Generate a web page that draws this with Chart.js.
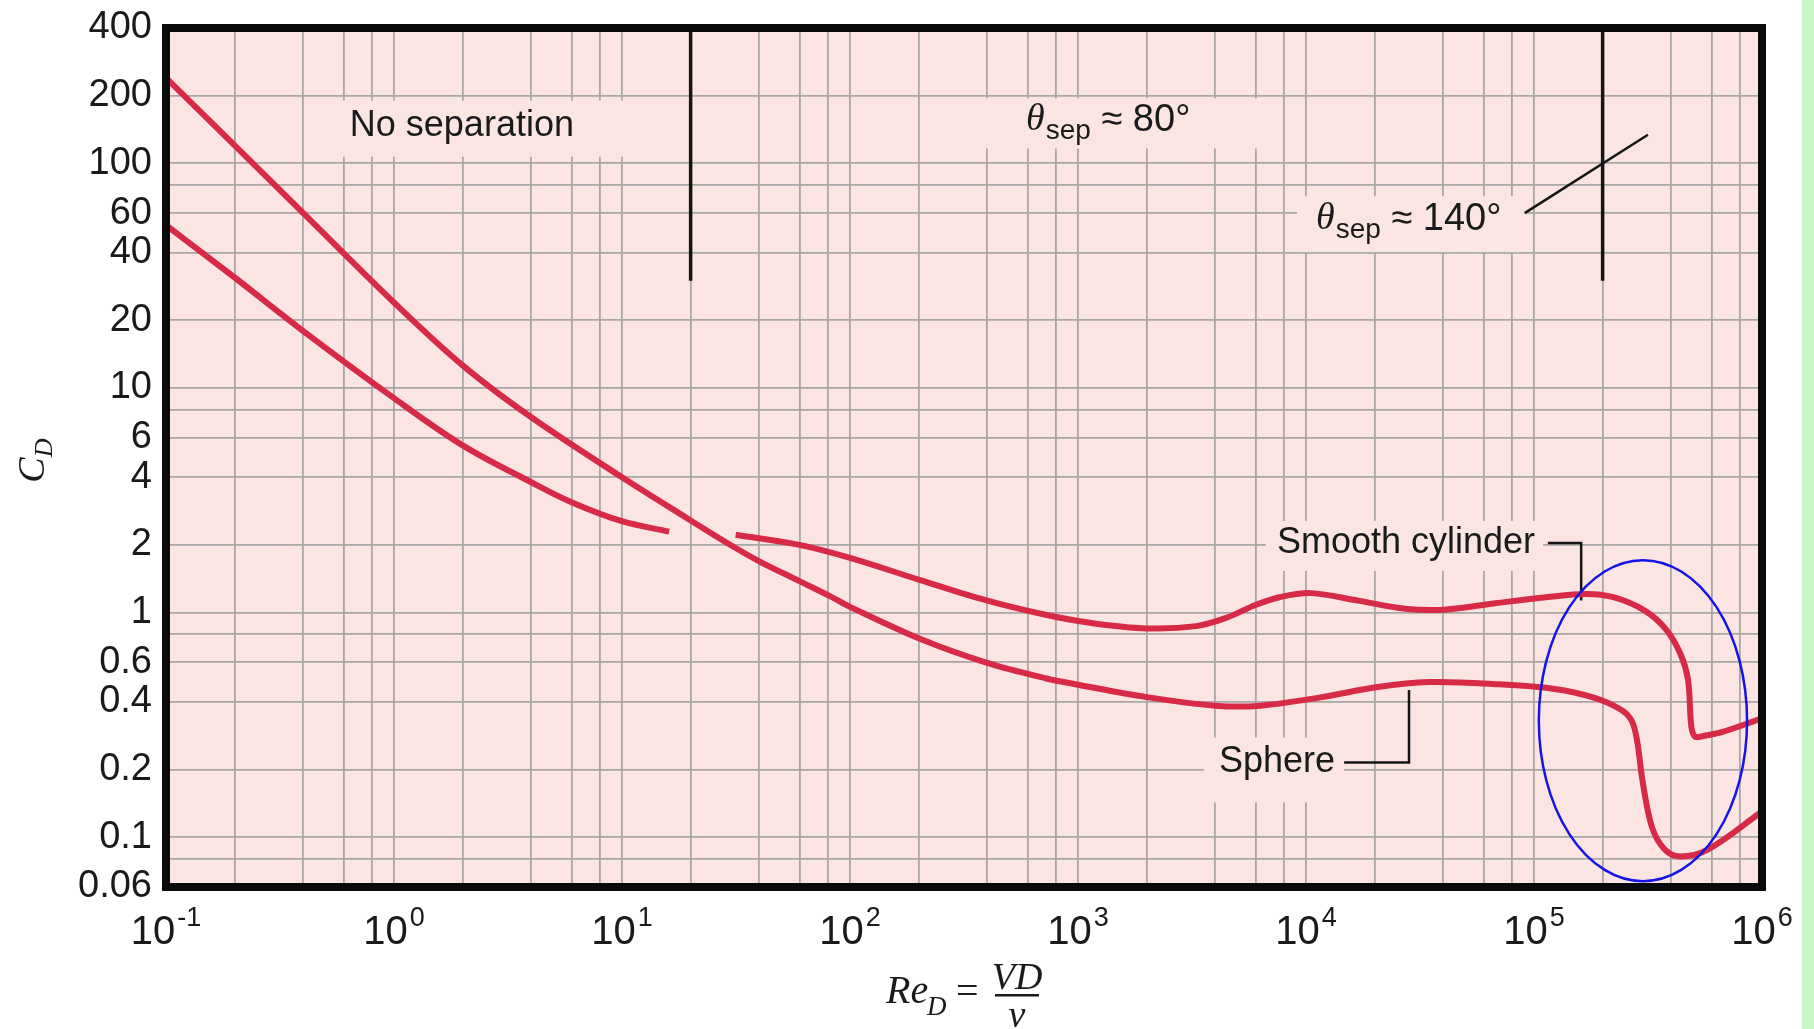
<!DOCTYPE html>
<html><head><meta charset="utf-8">
<script src="https://cdn.jsdelivr.net/npm/chart.js@4.4.1/dist/chart.umd.min.js"></script>
<style>html,body{margin:0;padding:0;background:#fff;overflow:hidden}canvas{display:block}</style>
</head><body>
<canvas id="c" width="1814" height="1029"></canvas>
<script>
// ---- data ----
const sphereRe = [0.1, 0.4, 1, 2, 4, 10, 20, 28, 40, 60, 82, 100, 205, 393, 720, 1000, 2000, 4000, 6300, 11400, 20600, 34500, 67800, 123000, 183000, 240000, 268000, 283000, 300000, 330000, 375000, 438000, 578000, 1000000];
const sphereCd = [240, 60, 24, 12.6, 7.4, 4.0, 2.57, 2.08, 1.69, 1.38, 1.18, 1.06, 0.76, 0.60, 0.51, 0.477, 0.42, 0.385, 0.385, 0.418, 0.466, 0.49, 0.48, 0.457, 0.418, 0.37, 0.33, 0.27, 0.175, 0.11, 0.088, 0.082, 0.088, 0.13];
const cylinderRe = [0.1, 0.2, 0.4, 1, 2, 4, 6, 10, 16.1, 22, 31.5, 60, 100, 205, 393, 720, 1130, 2000, 3300, 4500, 6000, 7640, 10500, 16900, 27200, 40400, 67700, 113000, 169000, 223000, 306000, 380000, 440000, 474000, 490000, 510000, 560000, 678000, 1000000];
const cylinderCd = [53, 31, 17.9, 9.0, 5.55, 3.8, 3.1, 2.55, 2.29, null, 2.22, 2.0, 1.75, 1.39, 1.135, 0.977, 0.90, 0.85, 0.87, 0.95, 1.08, 1.17, 1.22, 1.13, 1.04, 1.03, 1.10, 1.17, 1.21, 1.17, 1.02, 0.84, 0.65, 0.50, 0.31, 0.28, 0.283, 0.295, 0.338];

const xGridValues = [0.1,0.2,0.4,0.6,0.8,1,2,4,6,8,10,20,40,60,80,100,200,400,600,800,1000,2000,4000,6000,8000,10000,20000,40000,60000,80000,100000,200000,400000,600000,800000,1000000];
const xTickExponents = [-1, 0, 1, 2, 3, 4, 5, 6];
const yGridValues = [0.06,0.08,0.1,0.2,0.4,0.6,0.8,1,2,4,6,8,10,20,40,60,80,100,200,400];
const yTickLabels = ['0.06','0.1','0.2','0.4','0.6','1','2','4','6','10','20','40','60','100','200','400'];

// separation-regime markers
const sepLineRe = [20, 200000];
const sepLineCd = [400, 30];
const pointerRe = [91000, 316000];
const pointerCd = [60, 134];
// label anchors (left edge, vertical centre) in data units
const labelNoSep = {re: 0.64, cd: 147};
const labelTheta80 = {re: 592, cd: 155};
const labelTheta140 = {re: 11070, cd: 56.4};
const labelCylinder = {re: 7460, cd: 2.04};
const labelSphere = {re: 4150, cd: 0.215};
const leaderCylRe = [115000, 161000]; const leaderCylCd = [2.04, 1.13];
const leaderSphRe = [14700, 28300]; const leaderSphCd = [0.215, 0.452];
const ellipseRe = [105000, 860000]; const ellipseCd = [0.0637, 1.71];

// ---- helpers ----
const RED = '#d62a47';
const SANS = '"Liberation Sans", Arial, sans-serif';
const SERIF = '"Liberation Serif", "Times New Roman", serif';

function pts(re, cd){ return re.map((r,i)=>({x:r, y:cd[i]})); }
function splitAtNull(re, cd){
  const out=[]; let cur=[];
  re.forEach((r,i)=>{ if(cd[i]===null){ if(cur.length) out.push(cur); cur=[]; } else cur.push({x:r,y:cd[i]}); });
  if(cur.length) out.push(cur); return out;
}
const cylSegments = splitAtNull(cylinderRe, cylinderCd);

const lineStyle = {borderColor: RED, borderWidth: 6, pointRadius: 0, fill: false,
  tension: 0.35, borderCapStyle: 'butt', borderJoinStyle: 'round'};

const decor = {
  id: 'decor',
  beforeDraw(chart){
    const {ctx, chartArea: a} = chart;
    ctx.save();
    ctx.fillStyle = '#ffffff'; ctx.fillRect(0,0,chart.width,chart.height);
    ctx.fillStyle = '#c9f8c6'; ctx.fillRect(1802,0,chart.width-1802,chart.height);
    ctx.fillStyle = '#fbe5e3'; ctx.fillRect(a.left,a.top,a.right-a.left,a.bottom-a.top);
    ctx.restore();
  },
  beforeDatasetsDraw(chart){
    const {ctx} = chart; const X = v=>chart.scales.x.getPixelForValue(v); const Y = v=>chart.scales.y.getPixelForValue(v);
    ctx.save();
    ctx.textBaseline = 'middle'; ctx.textAlign = 'left';
    const box = (lab, w, pl, pr, pu, pd) => {
      const x = X(lab.re), y = Y(lab.cd);
      ctx.fillStyle = '#fbe5e3'; ctx.fillRect(x-pl, y-pu, w+pl+pr, pu+pd);
    };
    ctx.font = '36px ' + SANS;
    const wNo = ctx.measureText('No separation').width;
    const wCyl = ctx.measureText('Smooth cylinder').width;
    const wSph = ctx.measureText('Sphere').width;
    box(labelNoSep, wNo, 21, 65, 25, 31);
    box(labelTheta80, 175, 55, 59, 22, 28);
    box(labelTheta140, 198, 19, 11, 23, 33);
    box(labelCylinder, wCyl, 11, 8, 22, 28);
    box(labelSphere, wSph, 15, 9, 25, 40);
    ctx.strokeStyle = '#151515'; ctx.lineWidth = 3.5;
    sepLineRe.forEach(r=>{ ctx.beginPath(); ctx.moveTo(X(r), Y(sepLineCd[0])); ctx.lineTo(X(r), Y(sepLineCd[1])); ctx.stroke(); });
    ctx.lineWidth = 2.5;
    ctx.beginPath(); ctx.moveTo(X(pointerRe[0]), Y(pointerCd[0])); ctx.lineTo(X(pointerRe[1]), Y(pointerCd[1])); ctx.stroke();
    ctx.beginPath(); ctx.moveTo(X(leaderCylRe[0]), Y(leaderCylCd[0])); ctx.lineTo(X(leaderCylRe[1]), Y(leaderCylCd[0])); ctx.lineTo(X(leaderCylRe[1]), Y(leaderCylCd[1])); ctx.stroke();
    ctx.beginPath(); ctx.moveTo(X(leaderSphRe[0]), Y(leaderSphCd[0])); ctx.lineTo(X(leaderSphRe[1]), Y(leaderSphCd[0])); ctx.lineTo(X(leaderSphRe[1]), Y(leaderSphCd[1])); ctx.stroke();
    ctx.fillStyle = '#1a1a1a';
    ctx.font = '36px ' + SANS;
    ctx.fillText('No separation', X(labelNoSep.re), Y(labelNoSep.cd));
    ctx.fillText('Smooth cylinder', X(labelCylinder.re), Y(labelCylinder.cd));
    ctx.fillText('Sphere', X(labelSphere.re), Y(labelSphere.cd));
    const theta = (lab, deg) => {
      let x = X(lab.re); const y = Y(lab.cd);
      ctx.font = 'italic 38px ' + SERIF; ctx.fillText('θ', x, y); x += ctx.measureText('θ').width + 1;
      ctx.font = '28px ' + SANS; ctx.fillText('sep', x, y+11); x += ctx.measureText('sep').width;
      ctx.font = '38px ' + SANS; ctx.fillText(' ≈ ' + deg + '°', x, y);
    };
    theta(labelTheta80, '80'); theta(labelTheta140, '140');
    ctx.restore();
  },
  afterDraw(chart){
    const {ctx, chartArea: a} = chart; const X = v=>chart.scales.x.getPixelForValue(v); const Y = v=>chart.scales.y.getPixelForValue(v);
    ctx.save();
    ctx.strokeStyle = '#0a0a0a'; ctx.lineWidth = 8;
    ctx.strokeRect(a.left, a.top, a.right-a.left, a.bottom-a.top);
    ctx.fillStyle = '#1a1a1a'; ctx.font = '38px ' + SANS; ctx.textAlign = 'right'; ctx.textBaseline = 'middle';
    yTickLabels.forEach(t=>{ ctx.fillText(t, a.left-14, Y(parseFloat(t))); });
    ctx.textAlign = 'left'; ctx.textBaseline = 'alphabetic';
    xTickExponents.forEach(e=>{
      const base = '10', ex = (e<0?'-':'') + Math.abs(e);
      ctx.font = '40px ' + SANS; const wb = ctx.measureText(base).width;
      ctx.font = '27px ' + SANS; const we = ctx.measureText(ex).width;
      const x0 = X(Math.pow(10,e)) - (wb+2+we)/2;
      ctx.font = '40px ' + SANS; ctx.fillText(base, x0, 944);
      ctx.font = '27px ' + SANS; ctx.fillText(ex, x0+wb+2, 926);
    });
    ctx.save(); ctx.translate(44, 462); ctx.rotate(-Math.PI/2);
    ctx.font = 'italic 38px ' + SERIF; ctx.textAlign='left'; ctx.textBaseline='alphabetic';
    const wc = ctx.measureText('C').width;
    ctx.fillText('C', -(wc+16)/2, 0);
    ctx.font = 'italic 26px ' + SERIF; ctx.fillText('D', -(wc+16)/2 + wc, 8);
    ctx.restore();
    const cx = (a.left+a.right)/2;
    ctx.font = 'italic 40px ' + SERIF; ctx.textAlign='left';
    ctx.fillText('Re', cx-78, 1003);
    ctx.font = 'italic 27px ' + SERIF; ctx.fillText('D', cx-37, 1015);
    ctx.font = '40px ' + SERIF; ctx.fillText('=', cx-8, 1004);
    ctx.font = 'italic 38px ' + SERIF; ctx.textAlign='center';
    ctx.fillText('VD', cx+53, 989);
    ctx.fillText('ν', cx+53, 1027);
    ctx.fillRect(cx+31, 994, 44, 2.5);
    const ex0 = X(ellipseRe[0]), ex1 = X(ellipseRe[1]), ey0 = Y(ellipseCd[1]), ey1 = Y(ellipseCd[0]);
    ctx.strokeStyle = '#1414e6'; ctx.lineWidth = 2.5;
    ctx.beginPath(); ctx.ellipse((ex0+ex1)/2, (ey0+ey1)/2, (ex1-ex0)/2, (ey1-ey0)/2, 0, 0, Math.PI*2); ctx.stroke();
    ctx.restore();
  }
};

const datasets = [
  Object.assign({label:'Sphere', data: pts(sphereRe, sphereCd)}, lineStyle),
  ...cylSegments.map(s=>Object.assign({label:'Smooth cylinder', data: s}, lineStyle))
];

new Chart(document.getElementById('c'), {
  type: 'line',
  data: { datasets },
  options: {
    responsive: false, animation: false, devicePixelRatio: 1,
    layout: { padding: {left: 166, top: 28, right: 52, bottom: 142} },
    plugins: { legend: {display:false}, tooltip: {enabled:false} },
    scales: {
      x: { type: 'logarithmic', min: 0.1, max: 1000000,
        afterBuildTicks: s => { s.ticks = xGridValues.map(v=>({value:v})); },
        ticks: {display:false}, border: {display:false},
        grid: {color:'#a9a6a6', lineWidth:1.8, drawTicks:false} },
      y: { type: 'logarithmic', min: 0.06, max: 400,
        afterBuildTicks: s => { s.ticks = yGridValues.map(v=>({value:v})); },
        ticks: {display:false}, border: {display:false},
        grid: {color:'#a9a6a6', lineWidth:1.8, drawTicks:false} }
    }
  },
  plugins: [decor]
});
</script>
</body></html>
